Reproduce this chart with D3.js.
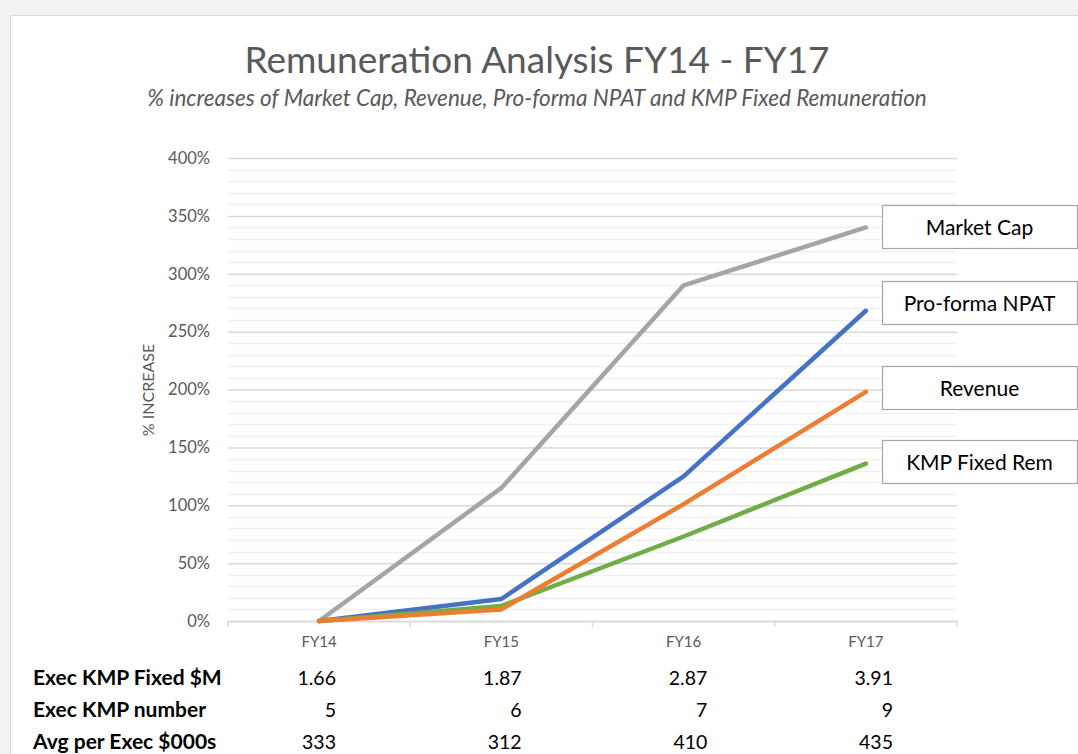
<!DOCTYPE html>
<html>
<head>
<meta charset="UTF-8">
<title>Remuneration Analysis FY14 - FY17</title>
<script src="https://cdn.jsdelivr.net/npm/d3@7"></script>
<style>
  body { margin: 0; background: #f2f2f2; }
  svg { display: block; font-family: Lato, "Open Sans", sans-serif; }
</style>
</head>
<body>
<script>
// data
var years = ["FY14", "FY15", "FY16", "FY17"];
var marketCap = [0, 115, 290, 340];
var npat = [0, 19, 125, 268];
var revenue = [0, 10, 101, 198];
var kmpFixed = [0, 13, 73, 136];
var yTicks = [0, 50, 100, 150, 200, 250, 300, 350, 400];

var rowLabels = ["Exec KMP Fixed $M", "Exec KMP number", "Avg per Exec $000s"];
var kmpDollars = ["1.66", "1.87", "2.87", "3.91"];
var kmpNumber = ["5", "6", "7", "9"];
var avgPerExec = ["333", "312", "410", "435"];

var series = [
  { name: "Market Cap", values: marketCap, color: "#a5a5a5" },
  { name: "Pro-forma NPAT", values: npat, color: "#4472c4" },
  { name: "KMP Fixed Rem", values: kmpFixed, color: "#70ad47" },
  { name: "Revenue", values: revenue, color: "#ed7d31" }
];
// label boxes, top to bottom
var labelOrder = ["Market Cap", "Pro-forma NPAT", "Revenue", "KMP Fixed Rem"];
var labelTop = [205, 281, 366, 440];

var W = 1078, H = 754;
var svg = d3.select("body").append("svg").attr("width", W).attr("height", H);

// white chart sheet
svg.append("rect").attr("x", 10.5).attr("y", 15.5).attr("width", W).attr("height", H)
  .attr("fill", "#fff").attr("stroke", "#d9d9d9");

var plotL = 228, plotR = 957, plotT = 158, plotB = 621;

var x = d3.scaleBand().domain(years).range([plotL, plotR]);
var y = d3.scaleLinear().domain([0, 400]).range([plotB, plotT]);

// minor grid every 10%
svg.append("g").selectAll("line").data(d3.range(10, 400, 10).filter(function(d) { return d % 50; }))
  .join("line")
  .attr("x1", plotL).attr("x2", plotR)
  .attr("y1", function(d) { return Math.round(y(d)) + 0.5; })
  .attr("y2", function(d) { return Math.round(y(d)) + 0.5; })
  .attr("stroke", "#f0f0f0").attr("stroke-width", 1.5);

// major grid + y labels
var yAxis = d3.axisLeft(y).tickValues(yTicks).tickSize(-(plotR - plotL)).tickPadding(18)
  .tickFormat(function(d) { return d + "%"; });
var gy = svg.append("g").attr("transform", "translate(" + plotL + ",0)").call(yAxis);
gy.select(".domain").remove();
gy.selectAll(".tick line").attr("stroke", "#d9d9d9").attr("stroke-width", 1.5);
gy.selectAll(".tick text").attr("fill", "#595959").attr("font-size", 16.5)
  .attr("font-family", "Lato, sans-serif");

// x axis
svg.append("line").attr("x1", plotL).attr("x2", plotR).attr("y1", plotB + 0.5).attr("y2", plotB + 0.5)
  .attr("stroke", "#d9d9d9").attr("stroke-width", 1.5);
svg.append("g").selectAll("line").data(d3.range(years.length + 1)).join("line")
  .attr("x1", function(i) { return plotL + i * x.step(); })
  .attr("x2", function(i) { return plotL + i * x.step(); })
  .attr("y1", plotB).attr("y2", plotB + 6)
  .attr("stroke", "#d9d9d9").attr("stroke-width", 1.5);
svg.append("g").selectAll("text").data(years).join("text")
  .attr("x", function(d) { return x(d) + x.bandwidth() / 2; })
  .attr("y", 647)
  .attr("text-anchor", "middle").attr("fill", "#595959").attr("font-size", 15)
  .text(function(d) { return d; });

// y axis title
svg.append("text").attr("transform", "translate(154," + 390 + ") rotate(-90)")
  .attr("text-anchor", "middle").attr("fill", "#595959").attr("font-size", 16)
  .text("% INCREASE");

// lines
var line = d3.line()
  .x(function(d, i) { return x(years[i]) + x.bandwidth() / 2; })
  .y(function(d) { return y(d); });
svg.append("g").selectAll("path").data(series).join("path")
  .attr("d", function(d) { return line(d.values); })
  .attr("fill", "none")
  .attr("stroke", function(d) { return d.color; })
  .attr("stroke-width", 4.5)
  .attr("stroke-linecap", "round").attr("stroke-linejoin", "round");

// label boxes
var boxes = svg.append("g").selectAll("g").data(labelOrder).join("g")
  .attr("transform", function(d, i) { return "translate(882.5," + (labelTop[i] + 0.5) + ")"; });
boxes.append("rect").attr("width", 195).attr("height", 43)
  .attr("fill", "#fff").attr("stroke", "#a6a6a6").attr("stroke-width", 1.2);
boxes.append("text").attr("x", 97).attr("y", 29).attr("text-anchor", "middle")
  .attr("fill", "#000").attr("font-size", 21)
  .text(function(d) { return d; });

// titles
svg.append("text").attr("x", 537).attr("y", 73).attr("text-anchor", "middle")
  .attr("fill", "#595959").attr("font-size", 37)
  .text("Remuneration Analysis FY14 - FY17");
svg.append("text").attr("x", 537).attr("y", 106).attr("text-anchor", "middle")
  .attr("fill", "#595959").attr("font-size", 22.5).attr("font-style", "italic")
  .text("% increases of Market Cap, Revenue, Pro-forma NPAT and KMP Fixed Remuneration");

// data table under the chart
var rows = [kmpDollars, kmpNumber, avgPerExec];
var rowY = d3.scaleLinear().domain([0, 2]).range([685, 749]);
var colRight = d3.scaleLinear().domain([0, years.length - 1]).range([336, 893]);
svg.append("g").selectAll("text").data(rowLabels).join("text")
  .attr("x", 33).attr("y", function(d, i) { return rowY(i); })
  .attr("font-weight", "bold").attr("font-size", 21).attr("fill", "#000")
  .text(function(d) { return d; });
rows.forEach(function(row, r) {
  svg.append("g").selectAll("text").data(row).join("text")
    .attr("x", function(d, i) { return colRight(i); })
    .attr("y", rowY(r))
    .attr("text-anchor", "end").attr("font-size", 19.5).attr("fill", "#000")
    .text(function(d) { return d; });
});
</script>
</body>
</html>
